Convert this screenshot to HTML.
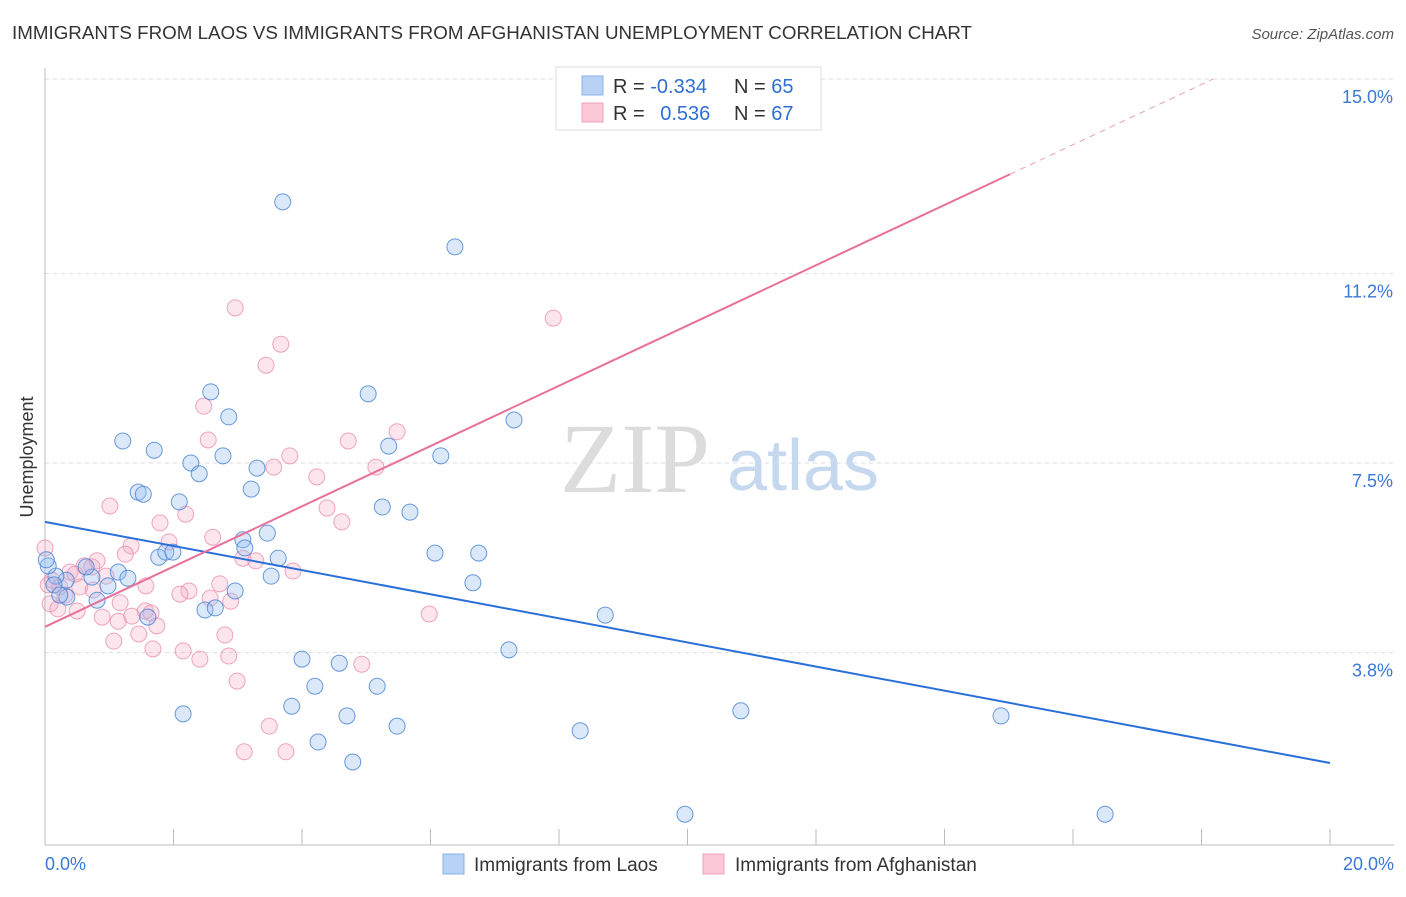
<!DOCTYPE html>
<html><head><meta charset="utf-8">
<style>
body{margin:0;background:#fff;font-family:"Liberation Sans",sans-serif;}
</style></head>
<body>
<svg id="chart" width="1406" height="892" font-family="Liberation Sans, sans-serif">
<text x="12" y="39" font-size="18" fill="#333" textLength="960" lengthAdjust="spacingAndGlyphs">IMMIGRANTS FROM LAOS VS IMMIGRANTS FROM AFGHANISTAN UNEMPLOYMENT CORRELATION CHART</text>
<text x="1394" y="39" font-size="15" fill="#555" text-anchor="end" font-style="italic">Source: ZipAtlas.com</text>
<text x="33" y="457" font-size="18" fill="#333" text-anchor="middle" transform="rotate(-90 33 457)">Unemployment</text>
<g id="grid"></g>
<g>
<text x="635" y="492" font-size="100" fill="#dcdcdc" text-anchor="middle" font-family="Liberation Serif, serif">ZIP</text>
<text x="803" y="490" font-size="72" fill="#c5d8ee" text-anchor="middle">atlas</text>
</g>
<g id="points"></g>
<g id="lines"></g>
<g>
<rect x="556" y="67" width="265" height="63" fill="#fff" stroke="#ddd"/>
<rect x="582" y="76" width="21" height="19" fill="#b8d2f5" stroke="#8ab2e8"/>
<rect x="582" y="103" width="21" height="19" fill="#fcc9d8" stroke="#f0a0b8"/>
<text x="613" y="93" font-size="20" fill="#333">R = <tspan fill="#2f6fd3">-0.334</tspan></text>
<text x="734" y="93" font-size="20" fill="#333">N = <tspan fill="#2f6fd3">65</tspan></text>
<text x="613" y="120" font-size="20" fill="#333">R = <tspan fill="#2f6fd3" dx="10">0.536</tspan></text>
<text x="734" y="120" font-size="20" fill="#333">N = <tspan fill="#2f6fd3">67</tspan></text>
</g>
<g>
<rect x="443" y="854" width="21" height="20" fill="#b8d2f5" stroke="#8ab2e8"/>
<text x="474" y="871" font-size="19" fill="#333">Immigrants from Laos</text>
<rect x="703" y="854" width="21" height="20" fill="#fcc9d8" stroke="#f0a0b8"/>
<text x="735" y="871" font-size="19" fill="#333">Immigrants from Afghanistan</text>
</g>
</svg>
<script>
const yTicks=[15.0,11.2,7.5,3.8];
const yTickLabels=["15.0%","11.2%","7.5%","3.8%"];
const xTickLabels=["0.0%","20.0%"];
const laosX=[3.70,6.38,2.58,5.03,2.86,1.21,1.70,5.35,7.30,6.16,2.27,2.77,2.40,3.30,1.45,1.53,3.21,2.09,5.25,5.68,3.46,3.08,3.11,1.77,1.88,1.99,3.63,6.07,6.75,6.66,3.52,1.14,1.29,0.98,0.73,0.33,0.17,0.05,0.14,0.34,0.81,1.60,2.49,2.65,2.96,8.72,7.22,4.00,4.58,4.20,5.17,2.15,3.84,4.70,5.48,8.33,10.83,14.88,4.25,4.79,9.96,16.50,0.64,0.23,0.02];
const laosY=[12.60,11.72,8.89,8.85,8.40,7.93,7.75,7.83,8.34,7.64,7.50,7.64,7.29,7.40,6.93,6.89,6.99,6.74,6.64,6.54,6.13,6.00,5.84,5.66,5.76,5.76,5.64,5.74,5.74,5.16,5.29,5.37,5.25,5.10,5.27,5.21,5.29,5.49,5.12,4.88,4.82,4.49,4.63,4.67,5.00,4.53,3.85,3.67,3.59,3.14,3.14,2.60,2.75,2.56,2.36,2.27,2.66,2.56,2.05,1.66,0.64,0.64,5.47,4.92,5.61];
const afgX=[10.43,2.96,7.91,3.67,3.44,2.47,2.54,4.72,5.48,3.81,5.15,3.56,4.23,1.01,2.19,4.39,4.62,1.79,2.61,1.93,1.34,1.25,0.81,0.61,0.39,0.95,0.11,0.23,0.54,0.31,0.75,1.57,2.24,2.10,2.72,3.86,3.08,3.28,2.57,2.89,0.08,0.20,0.50,1.17,1.56,1.65,0.89,1.14,1.35,1.74,2.80,1.07,1.46,1.68,2.15,2.41,2.86,4.93,2.99,5.98,3.49,3.10,3.75,0.00,0.05,0.73,0.47];
const afgY=[14.98,10.53,10.33,9.82,9.41,8.61,7.95,7.93,8.11,7.64,7.42,7.42,7.23,6.66,6.50,6.62,6.35,6.33,6.05,5.96,5.88,5.72,5.59,5.49,5.37,5.29,5.21,5.08,5.08,4.92,5.02,5.10,5.00,4.94,5.14,5.39,5.64,5.59,4.86,4.80,4.75,4.65,4.61,4.77,4.61,4.57,4.49,4.41,4.51,4.32,4.14,4.02,4.16,3.87,3.83,3.67,3.73,3.57,3.24,4.55,2.36,1.86,1.86,5.84,5.12,5.47,5.33];
const laosTrend=[6.35,1.64];
const afgTrend=[4.30,13.14,15.02];
const NS="http://www.w3.org/2000/svg";
const X0=45,X1=1330,Y15=79,PPU=51.2;
function sx(v){return X0+(v/20)*(X1-X0);}
function sy(v){return Y15+(15-v)*PPU;}
function mk(tag,attrs,parent){const e=document.createElementNS(NS,tag);for(const k in attrs)e.setAttribute(k,attrs[k]);parent.appendChild(e);return e;}
const grid=document.getElementById('grid');
yTicks.forEach((t,i)=>{
 const l=mk('line',{x1:45,x2:1394,y1:sy(t),y2:sy(t),stroke:'#ddd','stroke-dasharray':'4,4'},grid);
 
 
 const tx=mk('text',{x:1393,y:sy(t)+24,'font-size':18,fill:'#3a78d8','text-anchor':'end'},grid);
 tx.textContent=yTickLabels[i];
 
 
});
const ax=mk('line',{x1:45,x2:1394,y1:845,y2:845,stroke:'#bbb'},grid);


const ay=mk('line',{x1:45,x2:45,y1:68,y2:845,stroke:'#bbb'},grid);


for(let i=1;i<=10;i++){
 const t=mk('line',{x1:sx(i*2),x2:sx(i*2),y1:829,y2:845,stroke:'#bbb'},grid);
 
 
}
[[0,'start',45],[1,'end',1394]].forEach(([i,a,x])=>{
 const tx=mk('text',{x:x,y:870,'font-size':18,fill:'#3a78d8','text-anchor':a},grid);
 tx.textContent=xTickLabels[i];
 
 
});
const pts=document.getElementById('points');
afgX.forEach((x,i)=>{
 const c=mk('circle',{cx:sx(x),cy:sy(afgY[i]),r:8,fill:'rgba(248,170,195,0.3)',stroke:'rgba(232,130,165,0.7)','stroke-width':1},pts);
 
 
});
laosX.forEach((x,i)=>{
 const c=mk('circle',{cx:sx(x),cy:sy(laosY[i]),r:8,fill:'rgba(150,190,240,0.35)',stroke:'rgba(70,130,210,0.8)','stroke-width':1},pts);
 
 
});
const lines=document.getElementById('lines');
const bl=mk('line',{x1:sx(0),y1:sy(laosTrend[0]),x2:sx(20),y2:sy(laosTrend[1]),stroke:'#2a6fd8','stroke-width':2},lines);


const slope=(afgTrend[1]-afgTrend[0])/afgTrend[2];
const pl=mk('line',{x1:sx(0),y1:sy(afgTrend[0]),x2:sx(afgTrend[2]),y2:sy(afgTrend[1]),stroke:'#e8709a','stroke-width':2},lines);


const xEnd=(15-afgTrend[0])/slope;
const pd=mk('line',{x1:sx(afgTrend[2]),y1:sy(afgTrend[1]),x2:sx(xEnd),y2:sy(15),stroke:'#e8a0b8','stroke-width':1,'stroke-dasharray':'6,5'},lines);


</script>
</body></html>
